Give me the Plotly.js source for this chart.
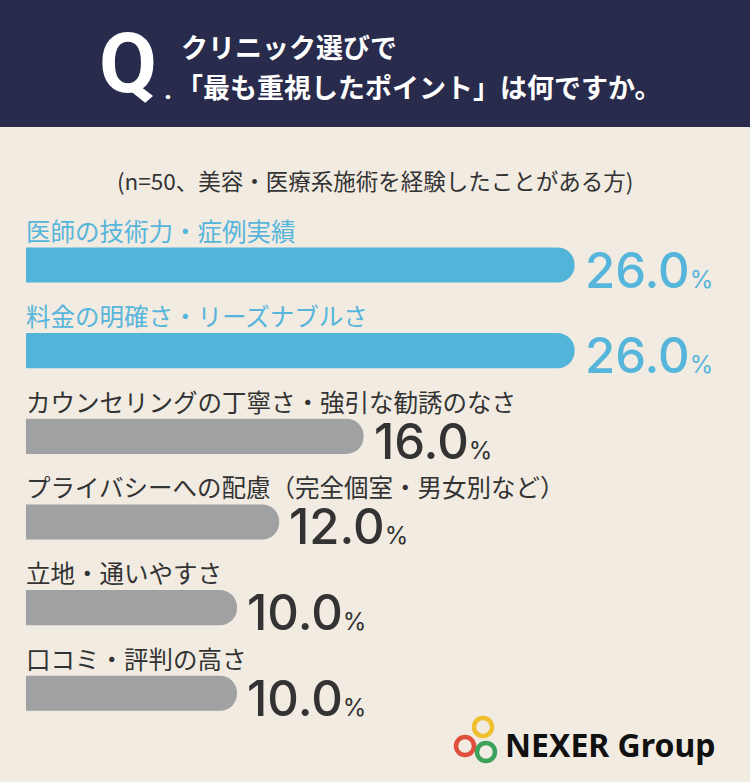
<!DOCTYPE html>
<html><head><meta charset="utf-8">
<script src="https://cdn.plot.ly/plotly-3.0.1.min.js"></script>
<style>html,body{margin:0;padding:0;background:#f1ebe2;}#chart{width:750px;height:782px;}</style>
</head><body><div id="chart"></div>
<script>
const categories = [
  "医師の技術力・症例実績",
  "料金の明確さ・リーズナブルさ",
  "カウンセリングの丁寧さ・強引な勧誘のなさ",
  "プライバシーへの配慮（完全個室・男女別など）",
  "立地・通いやすさ",
  "口コミ・評判の高さ"
];
const values = [26.0, 26.0, 16.0, 12.0, 10.0, 10.0];
const highlighted = [true, true, false, false, false, false];
const titleLine1 = "クリニック選びで";
const titleLine2 = "「最も重視したポイント」は何ですか。";
const subtitle = "(n=50、美容・医療系施術を経験したことがある方)";

const W = 750, H = 782;
const px = x => x / W;
const py = y => 1 - y / H;
const BLUE = "#53b4d9", GRAY = "#a0a1a3", NAVY = "#282b4b", DARK = "#333333";
const JP = "'Noto Sans CJK JP', 'Noto Sans', sans-serif";
const NUM = "Inter, 'Noto Sans', sans-serif";

const colors = highlighted.map(h => h ? BLUE : GRAY);
const textColors = highlighted.map(h => h ? "#56b5da" : DARK);

const trace = {
  type: "bar",
  orientation: "h",
  x: values,
  y: categories,
  marker: {color: colors, cornerradius: "50%"},
  hoverinfo: "skip",
  showlegend: false
};

const annotations = [];
categories.forEach((c, i) => {
  annotations.push({
    x: 0, y: c, xref: "x", yref: "y",
    xanchor: "left", yanchor: "middle", yshift: 35, xshift: -2,
    text: c, showarrow: false,
    font: {family: JP, size: 24.5, color: textColors[i]}
  });
  annotations.push({
    x: values[i], y: c, xref: "x", yref: "y",
    xanchor: "left", yanchor: "middle", xshift: 8, yshift: -5,
    text: values[i].toFixed(1) + "<span style='font-size:24px;font-weight:400'>%</span>",
    showarrow: false,
    font: {family: NUM, size: 49, weight: 500, color: textColors[i]}
  });
});

// header
annotations.push({
  xref: "paper", yref: "paper", x: px(97), y: py(64), xanchor: "left", yanchor: "middle",
  text: "<b>Q</b>", showarrow: false,
  font: {family: "Roboto, sans-serif", size: 84, color: "#ffffff"}
});
annotations.push({
  xref: "paper", yref: "paper", x: px(162), y: py(90), xanchor: "left", yanchor: "middle",
  text: "<b>.</b>", showarrow: false, font: {family: "Roboto, sans-serif", size: 28, color: "#ffffff"}
});
annotations.push({
  xref: "paper", yref: "paper", x: px(179), y: py(47), xanchor: "left", yanchor: "middle",
  text: "<b>" + titleLine1 + "</b>", showarrow: false, font: {family: JP, size: 27, color: "#ffffff"}
});
annotations.push({
  xref: "paper", yref: "paper", x: px(174), y: py(86), xanchor: "left", yanchor: "middle",
  text: "<b>" + titleLine2 + "</b>", showarrow: false, font: {family: JP, size: 27, color: "#ffffff"}
});
annotations.push({
  xref: "paper", yref: "paper", x: 0.5, y: py(180), xanchor: "center", yanchor: "middle",
  text: subtitle, showarrow: false, font: {family: JP, size: 22.5, color: DARK}
});
// logo text
annotations.push({
  xref: "paper", yref: "paper", x: px(503), y: py(744), xanchor: "left", yanchor: "middle",
  text: "<b>NEXER Group</b>", showarrow: false, font: {family: "'Noto Sans', sans-serif", size: 32, color: "#111111"}
});

function circle(cx, cy, r, color) {
  return {type: "circle", xref: "paper", yref: "paper",
    x0: px(cx - r), x1: px(cx + r), y0: py(cy + r), y1: py(cy - r),
    line: {color: color, width: 4.5}, fillcolor: "rgba(0,0,0,0)"};
}

const shapes = [
  {type: "rect", xref: "paper", yref: "paper", x0: 0, x1: 1, y0: py(127), y1: 1,
   fillcolor: NAVY, line: {width: 0}, layer: "below"},
  circle(483, 727, 9, "#efbf2e"),
  circle(465, 746, 9, "#e0503c"),
  circle(486, 752, 9, "#3ea35a")
];

const layout = {
  width: W, height: H,
  margin: {l: 0, r: 0, t: 0, b: 0},
  paper_bgcolor: "#f1ebe2",
  plot_bgcolor: "rgba(0,0,0,0)",
  xaxis: {domain: [px(26), px(26 + 633)], range: [0, 30], showgrid: false, zeroline: false,
          showticklabels: false, showline: false, fixedrange: true},
  yaxis: {domain: [py(747.8), py(222.2)], autorange: "reversed", showgrid: false, zeroline: false,
          showticklabels: false, showline: false, fixedrange: true, type: "category"},
  bargap: 0.59,
  annotations: annotations,
  shapes: shapes,
  font: {family: JP}
};

Plotly.newPlot("chart", [trace], layout, {displayModeBar: false, staticPlot: true});
</script>
</body></html>
